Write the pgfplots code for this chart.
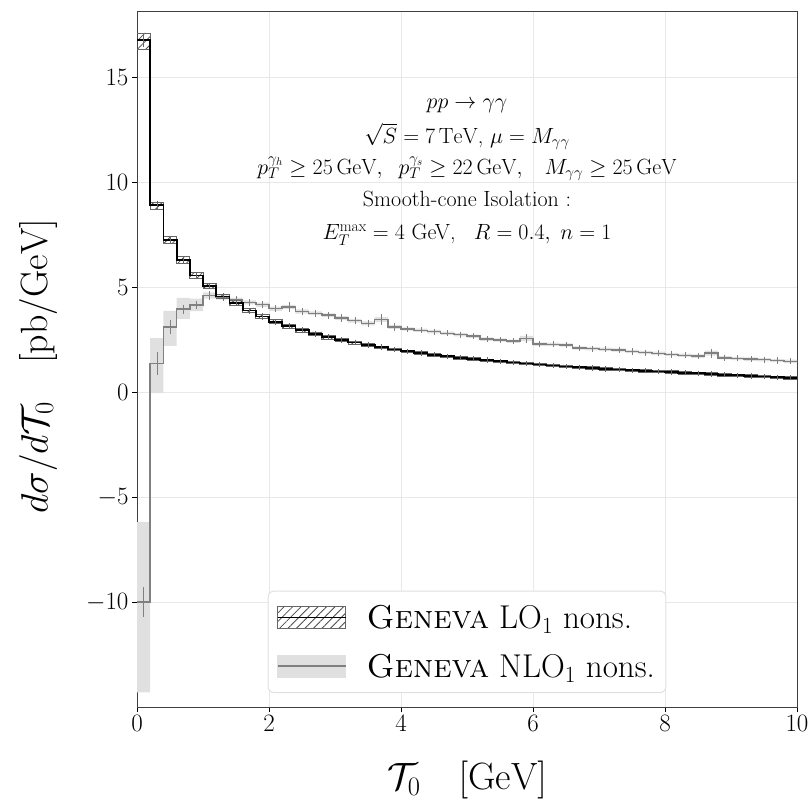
\documentclass[border=0pt]{standalone}
\usepackage{fix-cm}
\usepackage{fontspec}
\usepackage{pgfplots}
\usepackage{pgfplotstable}
\pgfplotsset{compat=1.18}
\usepgfplotslibrary{fillbetween}
\usetikzlibrary{patterns.meta}

\pgfplotstableread{
x lo lol loh nlo nlol nloh loe nloe
0.0 16.75 16.30 17.10 -10.00 -14.30 -6.20 0.20 0.60
0.2 8.90 8.72 9.05 1.35 -0.05 2.57 0.12 0.45
0.4 7.25 7.10 7.40 3.10 2.20 3.86 0.10 0.25
0.6 6.30 6.15 6.45 3.95 3.48 4.48 0.08 0.12
0.8 5.55 5.40 5.70 4.15 3.85 4.45 0.08 0.10
1.0 5.05 4.92 5.18 4.60 4.45 4.75 0.06 0.10
1.2 4.55 4.45 4.65 4.50 4.40 4.60 0.05 0.08
1.4 4.25 4.15 4.35 4.40 4.30 4.50 0.05 0.08
1.6 3.88 3.78 3.98 4.27 4.17 4.37 0.05 0.08
1.8 3.60 3.50 3.70 4.16 4.06 4.26 0.05 0.08
2.0 3.35 3.25 3.45 3.97 3.87 4.07 0.05 0.08
2.2 3.13 3.03 3.23 4.05 3.95 4.15 0.05 0.12
2.4 2.94 2.84 3.04 3.84 3.74 3.94 0.05 0.08
2.6 2.77 2.68 2.86 3.75 3.66 3.84 0.04 0.08
2.8 2.61 2.52 2.70 3.66 3.57 3.75 0.04 0.08
3.0 2.48 2.40 2.56 3.52 3.43 3.61 0.04 0.08
3.2 2.36 2.29 2.43 3.40 3.31 3.49 0.04 0.08
3.4 2.24 2.17 2.31 3.27 3.18 3.36 0.04 0.08
3.6 2.13 2.07 2.19 3.45 3.33 3.57 0.04 0.15
3.8 2.03 1.97 2.09 3.10 3.01 3.19 0.04 0.08
4.0 1.94 1.88 2.00 3.00 2.92 3.08 0.03 0.05
4.2 1.86 1.80 1.92 2.94 2.86 3.02 0.03 0.05
4.4 1.78 1.72 1.84 2.88 2.80 2.96 0.03 0.05
4.6 1.71 1.65 1.77 2.80 2.72 2.88 0.03 0.05
4.8 1.64 1.58 1.70 2.73 2.65 2.81 0.03 0.05
5.0 1.58 1.52 1.64 2.66 2.58 2.74 0.03 0.05
5.2 1.52 1.46 1.58 2.52 2.44 2.60 0.03 0.05
5.4 1.46 1.40 1.52 2.48 2.40 2.56 0.03 0.05
5.6 1.41 1.35 1.47 2.42 2.34 2.50 0.03 0.05
5.8 1.36 1.30 1.42 2.55 2.43 2.67 0.03 0.12
6.0 1.31 1.25 1.37 2.28 2.20 2.36 0.03 0.05
6.2 1.26 1.20 1.32 2.27 2.19 2.35 0.03 0.05
6.4 1.22 1.16 1.28 2.24 2.16 2.32 0.03 0.05
6.6 1.18 1.12 1.24 2.10 2.02 2.18 0.03 0.05
6.8 1.14 1.08 1.20 2.07 1.99 2.15 0.03 0.05
7.0 1.10 1.04 1.16 2.03 1.95 2.11 0.03 0.05
7.2 1.07 1.01 1.13 2.00 1.92 2.08 0.03 0.05
7.4 1.04 0.98 1.10 1.93 1.85 2.01 0.03 0.05
7.6 1.01 0.95 1.07 1.88 1.80 1.96 0.03 0.05
7.8 0.98 0.92 1.04 1.84 1.76 1.92 0.03 0.05
8.0 0.95 0.89 1.01 1.79 1.71 1.87 0.03 0.05
8.2 0.92 0.86 0.98 1.75 1.67 1.83 0.03 0.05
8.4 0.89 0.83 0.95 1.71 1.63 1.79 0.03 0.05
8.6 0.86 0.80 0.92 1.85 1.73 1.97 0.03 0.12
8.8 0.83 0.77 0.89 1.63 1.55 1.71 0.03 0.05
9.0 0.80 0.74 0.86 1.60 1.52 1.68 0.03 0.05
9.2 0.77 0.71 0.83 1.57 1.49 1.65 0.03 0.05
9.4 0.74 0.68 0.80 1.54 1.46 1.62 0.03 0.05
9.6 0.71 0.65 0.77 1.50 1.42 1.58 0.03 0.05
9.8 0.68 0.62 0.74 1.46 1.38 1.54 0.03 0.05
10.0 0.68 0.62 0.74 1.46 1.38 1.54 0.03 0.05
}\data

\begin{document}
\begin{tikzpicture}
\begin{axis}[
  at={(0pt,0pt)}, anchor=south west,
  scale only axis, width=660pt, height=695pt,
  xmin=0, xmax=10, ymin=-15, ymax=18.1,
  xtick={0,2,4,6,8,10}, ytick={-10,-5,0,5,10,15},
  grid=major, major grid style={black!9, line width=0.9pt},
  tick align=outside, tick pos=left, major tick length=5pt,
  tick style={black, line width=0.9pt},
  axis line style={black!75, line width=1pt},
  ticklabel style={font=\fontsize{25}{30}\selectfont},
  xlabel={$\mathcal{T}_0\quad[\mathrm{GeV}]$},
  ylabel={$d\sigma/d\mathcal{T}_0\quad[\mathrm{pb/GeV}]$},
  label style={font=\fontsize{38}{44}\selectfont},
  xlabel style={at={(axis description cs:0.5,-0.105)}, anchor=center},
  ylabel style={at={(axis description cs:-0.15,0.49)}, anchor=center},
  legend style={at={(axis description cs:0.5,0.02)}, anchor=south,
    draw=black!12, line width=1pt, rounded corners=6pt, fill=white,
    font=\fontsize{33}{38}\selectfont, inner xsep=9pt, inner ysep=12pt,
    row sep=20pt, column sep=18pt},
  legend cell align=left,
]
% NLO band
\addplot[const plot, draw=none, name path=nh, forget plot] table[x=x,y=nloh] {\data};
\addplot[const plot, draw=none, name path=nl, forget plot] table[x=x,y=nlol] {\data};
\addplot[fill=black!12, draw=none, forget plot] fill between[of=nh and nl];
% LO band
\addplot[const plot, draw=black!60, line width=0.7pt, name path=lh, forget plot] table[x=x,y=loh] {\data};
\addplot[const plot, draw=black!60, line width=0.7pt, name path=ll, forget plot] table[x=x,y=lol] {\data};
\addplot[pattern={Lines[angle=45,distance=6pt,line width=0.8pt]}, pattern color=black!70, draw=none, forget plot] fill between[of=lh and ll];
% NLO line
\addplot[const plot, black!50, line width=1.5pt, forget plot] table[x=x,y=nlo] {\data};
% LO line
\addplot[const plot, black, line width=1.8pt, forget plot] table[x=x,y=lo] {\data};
% error bars
\addplot[draw=none, mark=none, forget plot, skip coords between index={50}{51},
  error bars/.cd, y dir=both, y explicit,
  error bar style={black!50, line width=0.6pt},
  error mark options={black!50, mark size=2pt, line width=0.6pt}]
  table[x expr=\thisrow{x}+0.1, y=nlo, y error=nloe] {\data};
\addplot[draw=none, mark=none, forget plot, skip coords between index={50}{51},
  error bars/.cd, y dir=both, y explicit,
  error bar style={black!60, line width=0.6pt},
  error mark options={black!60, mark size=2pt, line width=0.6pt}]
  table[x expr=\thisrow{x}+0.1, y=lo, y error=loe] {\data};
% legend
\addlegendimage{legend image code/.code={
  \draw[sharp corners, draw=black!60, line width=0.8pt, pattern={Lines[angle=45,distance=6pt,line width=0.8pt]}, pattern color=black!70] (0pt,-11pt) rectangle (68pt,11pt);
  \draw[sharp corners, black, line width=1.5pt] (0pt,0pt) -- (68pt,0pt);}}
\addlegendentry{\textsc{Geneva} LO$_1$ nons.}
\addlegendimage{legend image code/.code={
  \fill[sharp corners, black!12] (0pt,-11pt) rectangle (68pt,11pt);
  \draw[sharp corners, black!50, line width=1.5pt] (0pt,0pt) -- (68pt,0pt);}}
\addlegendentry{\textsc{Geneva} NLO$_1$ nons.}
% annotation
\begin{scope}[every node/.style={anchor=base, inner sep=0pt, font=\fontsize{22}{30}\selectfont}]
\node at (axis cs:5,13.52) {$pp\to\gamma\gamma$};
\node at (axis cs:5,11.86) {$\sqrt{S}=7\,\mathrm{TeV}$, $\mu=M_{\gamma\gamma}$};
\node at (axis cs:5,10.38) {$p_T^{\gamma_h}\geq 25\,\mathrm{GeV},\;\; p_T^{\gamma_s}\geq 22\,\mathrm{GeV},\;\;\; M_{\gamma\gamma}\geq 25\,\mathrm{GeV}$};
\node at (axis cs:5,8.85) {Smooth-cone Isolation :};
\node at (axis cs:5,7.25) {$E_T^{\max}=4$ GeV,$\;\;\; R=0.4,\; n=1$};
\end{scope}
\end{axis}
\pgfresetboundingbox
\useasboundingbox (-137pt,-99pt) rectangle (671pt,707pt);
\end{tikzpicture}
\end{document}
